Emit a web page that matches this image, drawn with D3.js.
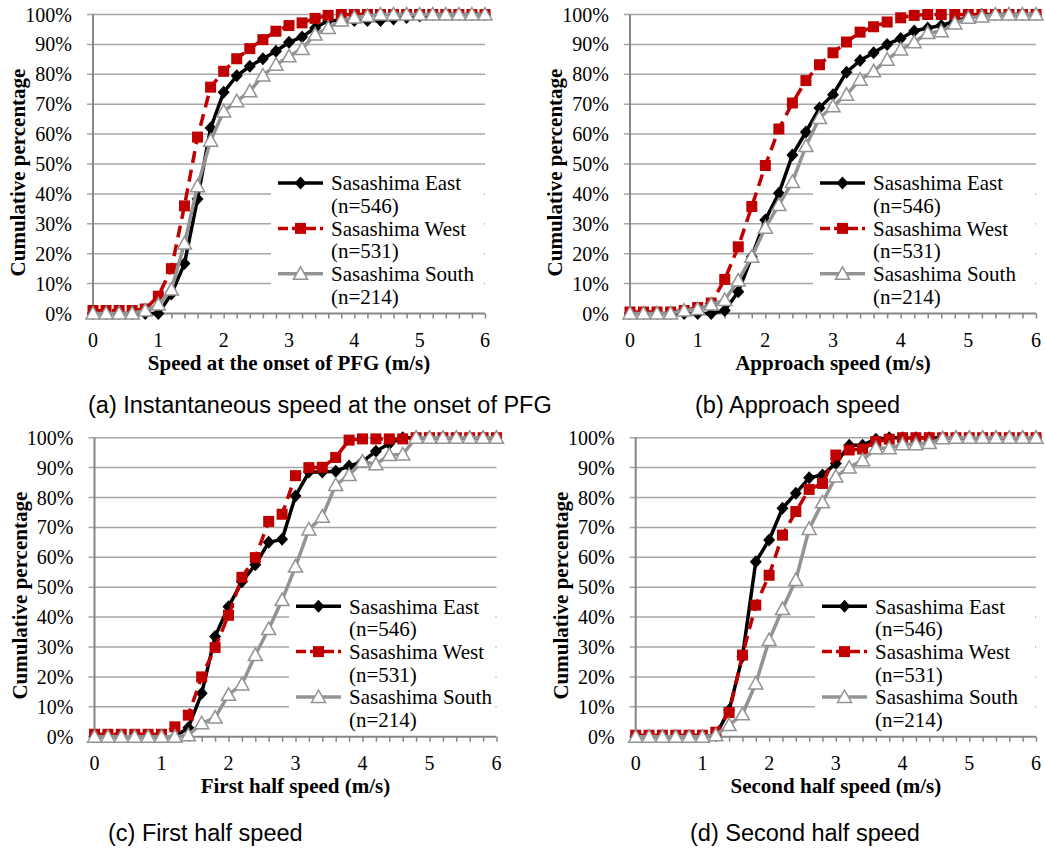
<!DOCTYPE html>
<html lang="en">
<head>
<meta charset="UTF-8">
<title>Cumulative speed distributions</title>
<script src="https://cdnjs.cloudflare.com/ajax/libs/d3/7.8.5/d3.min.js"></script>
<style>
    body { margin: 0; background: #fff; }
</style>
</head>
<body>
<svg id="chart" width="1045" height="856"></svg>
<script>
    // speed classes (m/s), one point every 0.2
    var speeds = [0, 0.2, 0.4, 0.6, 0.8, 1.0, 1.2, 1.4, 1.6, 1.8, 2.0, 2.2, 2.4, 2.6, 2.8, 3.0,
                  3.2, 3.4, 3.6, 3.8, 4.0, 4.2, 4.4, 4.6, 4.8, 5.0, 5.2, 5.4, 5.6, 5.8, 6.0];
    var xTicks = [0, 1, 2, 3, 4, 5, 6];
    var yTicks = [0, 10, 20, 30, 40, 50, 60, 70, 80, 90, 100];
    var seriesNames = ["Sasashima East", "Sasashima West", "Sasashima South"];
    var seriesCounts = ["(n=546)", "(n=531)", "(n=214)"];

    // (a) instantaneous speed at the onset of PFG
    var onsetEast  = [0, 0, 0, 0, 0, 0, 6.5, 16.7, 38.3, 62, 74, 79.5, 82.7, 85.2, 87.7, 90.7,
                      92.5, 95.5, 98, 98, 98, 98, 98, 98.5, 99, 99.5, 100, 100, 100, 100, 100];
    var onsetWest  = [1, 1, 1, 1, 1.5, 5.8, 15, 36, 59, 75.7, 81, 85.2, 88.6, 91.6, 94.4, 96.3,
                      97.2, 98.7, 99.7, 100, 100, 100, 100, 100, 100, 100, 100, 100, 100, 100, 100];
    var onsetSouth = [0, 0, 0, 0, 1, 3, 8, 23.4, 42.6, 57.8, 67.6, 71, 74.3, 79.6, 83.2, 86,
                      88.5, 93.3, 95.5, 98, 99, 99.5, 100, 100, 100, 100, 100, 100, 100, 100, 100];

    // (b) approach speed
    var approachEast  = [0, 0, 0, 0, 0, 0, 0, 1, 7.3, 19, 31.3, 40.2, 53, 60.7, 68.7, 73.2,
                         80.7, 84.6, 87.2, 90, 92, 94.5, 95.5, 96.3, 97.8, 99, 100, 100, 100, 100, 100];
    var approachWest  = [0.5, 0.5, 0.5, 0.5, 1, 2, 3.5, 11.4, 22.3, 35.8, 49.5, 61.7, 70.4, 77.9, 83.2, 87.2,
                         90.8, 94.1, 95.9, 97.5, 98.9, 99.7, 100, 100, 100, 100, 100, 100, 100, 100, 100];
    var approachSouth = [0, 0, 0, 0, 1, 1.5, 3, 4.5, 11, 19, 28.7, 36.3, 44, 56, 65.4, 69.3,
                         73.2, 78.2, 81, 84.9, 88.3, 90.7, 93.8, 94.4, 97, 98.9, 99.3, 100, 100, 100, 100];

    // (c) first half speed
    var firstEast  = [0, 0, 0, 0, 0, 0, 0, 3, 14.5, 33.5, 43.5, 51.8, 57.5, 65, 66, 80.5,
                      88.5, 88.5, 88.8, 90.5, 92, 95.5, 98, 100, 100, 100, 100, 100, 100, 100, 100];
    var firstWest  = [0.8, 0.8, 0.8, 0.8, 0.8, 0.8, 3.3, 7.2, 20, 29.8, 40.6, 53.3, 59.9, 72, 74.4, 87.3,
                      90, 90.1, 93.4, 99.2, 99.6, 99.6, 99.6, 99.6, 100, 100, 100, 100, 100, 100, 100];
    var firstSouth = [0, 0, 0, 0, 0, 0, 0, 0.5, 4.5, 6.4, 14, 17.5, 27.3, 36, 45.7, 56.9,
                      69.3, 73.6, 84.2, 87.5, 92, 91.1, 94.2, 94.4, 100, 100, 100, 100, 100, 100, 100];

    // (d) second half speed
    var secondEast  = [0, 0, 0, 0, 0, 0, 0.5, 8.9, 26.8, 58.5, 65.8, 76.4, 81.4, 86.6, 87.5, 91.4,
                       97.5, 97.5, 99.5, 100, 100, 100, 100, 100, 100, 100, 100, 100, 100, 100, 100];
    var secondWest  = [0.5, 0.5, 0.5, 0.5, 0.5, 0.5, 1.5, 8.1, 27.3, 44, 54, 67.4, 75.3, 82.7, 84.7, 94.2,
                       95.9, 96.2, 98.7, 99.5, 100, 100, 100, 100, 100, 100, 100, 100, 100, 100, 100];
    var secondSouth = [0, 0, 0, 0, 0, 0, 0.5, 3.9, 7.5, 17.8, 32.3, 42.7, 52.4, 69.5, 78.4, 87,
                       90, 92.5, 96.5, 96.5, 97.8, 97.8, 98.2, 99.8, 100, 100, 100, 100, 100, 100, 100];

    var SERIF = "'Liberation Serif', 'Times New Roman', Times, serif";
    var SANS = "'Liberation Sans', Arial, Helvetica, sans-serif";

    var styles = [
        {color: "#000000", dash: null,   marker: "diamond"},
        {color: "#C00000", dash: "12,7", marker: "square"},
        {color: "#939393", dash: null,   marker: "triangle"}
    ];

    var panels = [
        {series: [onsetEast, onsetWest, onsetSouth], xTitle: "Speed at the onset of PFG (m/s)",
         caption: "(a) Instantaneous speed at the onset of PFG",
         left: 93, right: 485, top: 14.5, bottom: 313.5, legendX: 331, capX: 88, capY: 405},
        {series: [approachEast, approachWest, approachSouth], xTitle: "Approach speed (m/s)",
         caption: "(b) Approach speed",
         left: 630, right: 1036, top: 14.5, bottom: 313.5, legendX: 873, capX: 695, capY: 405},
        {series: [firstEast, firstWest, firstSouth], xTitle: "First half speed (m/s)",
         caption: "(c) First half speed",
         left: 94.5, right: 496.5, top: 437.7, bottom: 736.7, legendX: 349, capX: 108, capY: 833},
        {series: [secondEast, secondWest, secondSouth], xTitle: "Second half speed (m/s)",
         caption: "(d) Second half speed",
         left: 635.7, right: 1036, top: 437.7, bottom: 736.7, legendX: 875, capX: 690, capY: 833}
    ];

    var svg = d3.select("#chart");

    function serifText(sel, size, bold) {
        return sel.style("font-family", SERIF)
            .style("font-size", size + "px")
            .style("font-weight", bold ? "bold" : "normal")
            .attr("fill", "#000");
    }

    function drawMarker(g, type, color, x, y) {
        if (type === "diamond") {
            g.append("path")
                .attr("d", "M" + x + "," + (y - 6.5) + "L" + (x + 6) + "," + y + "L" + x + "," + (y + 6.5) + "L" + (x - 6) + "," + y + "Z")
                .attr("fill", color);
        } else if (type === "square") {
            g.append("rect")
                .attr("x", x - 5.5).attr("y", y - 5.5)
                .attr("width", 11).attr("height", 11)
                .attr("fill", color);
        } else {
            g.append("path")
                .attr("d", "M" + x + "," + (y - 7) + "L" + (x + 7) + "," + (y + 5.5) + "L" + (x - 7) + "," + (y + 5.5) + "Z")
                .attr("fill", "#ffffff")
                .attr("stroke", color)
                .attr("stroke-width", 1.5);
        }
    }

    panels.forEach(function (p) {
        var x = d3.scaleLinear().domain([0, 6]).range([p.left, p.right]);
        var y = d3.scaleLinear().domain([0, 100]).range([p.bottom, p.top]);
        var g = svg.append("g");

        // gridlines, with a short outward tick on the left
        g.selectAll(".grid").data(yTicks.slice(1)).enter().append("line")
            .attr("x1", p.left - 6).attr("x2", p.right)
            .attr("y1", function (d) { return y(d); })
            .attr("y2", function (d) { return y(d); })
            .attr("stroke", "#a6a6a6").attr("stroke-width", 1.5);

        // y axis labels
        serifText(g.selectAll(".ylab").data(yTicks).enter().append("text"), 20, false)
            .attr("x", p.left - 21)
            .attr("y", function (d) { return y(d); })
            .attr("dy", "0.35em")
            .attr("text-anchor", "end")
            .text(function (d) { return d + "%"; });

        // x axis with minor ticks every 0.2
        var xAxis = d3.axisBottom(x).tickValues(speeds).tickSize(5).tickFormat("");
        var ax = g.append("g").attr("transform", "translate(0," + p.bottom + ")").call(xAxis);
        ax.select(".domain").remove();
        ax.selectAll(".tick line").attr("stroke", "#868686").attr("stroke-width", 1.5);

        serifText(g.selectAll(".xlab").data(xTicks).enter().append("text"), 20, false)
            .attr("x", function (d) { return x(d); })
            .attr("y", p.bottom + 26)
            .attr("dy", "0.35em")
            .attr("text-anchor", "middle")
            .text(function (d) { return d; });

        // axis lines
        g.append("line").attr("x1", p.left - 6).attr("x2", p.right)
            .attr("y1", p.bottom).attr("y2", p.bottom)
            .attr("stroke", "#868686").attr("stroke-width", 2);
        g.append("line").attr("x1", p.left).attr("x2", p.left)
            .attr("y1", p.top).attr("y2", p.bottom + 5)
            .attr("stroke", "#868686").attr("stroke-width", 2);

        // titles
        serifText(g.append("text"), 21, true)
            .attr("x", (p.left + p.right) / 2).attr("y", p.bottom + 49)
            .attr("dy", "0.35em").attr("text-anchor", "middle")
            .text(p.xTitle);
        serifText(g.append("text"), 21, true)
            .attr("transform", "translate(" + (p.left - 75) + "," + (p.bottom - 141) + ") rotate(-90)")
            .attr("dy", "0.35em").attr("text-anchor", "middle")
            .text("Cumulative percentage");

        // legend box hides the gridlines behind it
        var lx = p.legendX, ly = p.bottom - 130.5;
        g.append("rect")
            .attr("x", lx - 60).attr("y", ly - 15)
            .attr("width", p.right - (lx - 60) - 1).attr("height", 138)
            .attr("fill", "#ffffff");

        // series
        var line = d3.line()
            .x(function (d, i) { return x(speeds[i]); })
            .y(function (d) { return y(d); });

        p.series.forEach(function (vals, si) {
            var st = styles[si];
            g.append("path")
                .datum(vals)
                .attr("d", line)
                .attr("fill", "none")
                .attr("stroke", st.color)
                .attr("stroke-width", 3.5)
                .attr("stroke-dasharray", st.dash)
                .attr("stroke-linejoin", "round");
            var mg = g.append("g");
            vals.forEach(function (v, i) {
                drawMarker(mg, st.marker, st.color, x(speeds[i]), y(v));
            });
        });

        // legend entries
        seriesNames.forEach(function (name, si) {
            var st = styles[si];
            var rowY = ly + si * 45.4;
            g.append("line")
                .attr("x1", lx - 53).attr("x2", lx - 8)
                .attr("y1", rowY).attr("y2", rowY)
                .attr("stroke", st.color).attr("stroke-width", 3.5)
                .attr("stroke-dasharray", st.dash ? "10,4" : null);
            drawMarker(g, st.marker, st.color, lx - 30.5, rowY);
            serifText(g.append("text"), 21, false)
                .attr("x", lx).attr("y", rowY).attr("dy", "0.35em")
                .text(name);
            serifText(g.append("text"), 21, false)
                .attr("x", lx).attr("y", rowY + 22.7).attr("dy", "0.35em")
                .text(seriesCounts[si]);
        });

        svg.append("text")
            .style("font-family", SANS).style("font-size", "23.5px")
            .attr("fill", "#000")
            .attr("x", p.capX).attr("y", p.capY).attr("dy", "0.35em")
            .text(p.caption);
    });
</script>
</body>
</html>
